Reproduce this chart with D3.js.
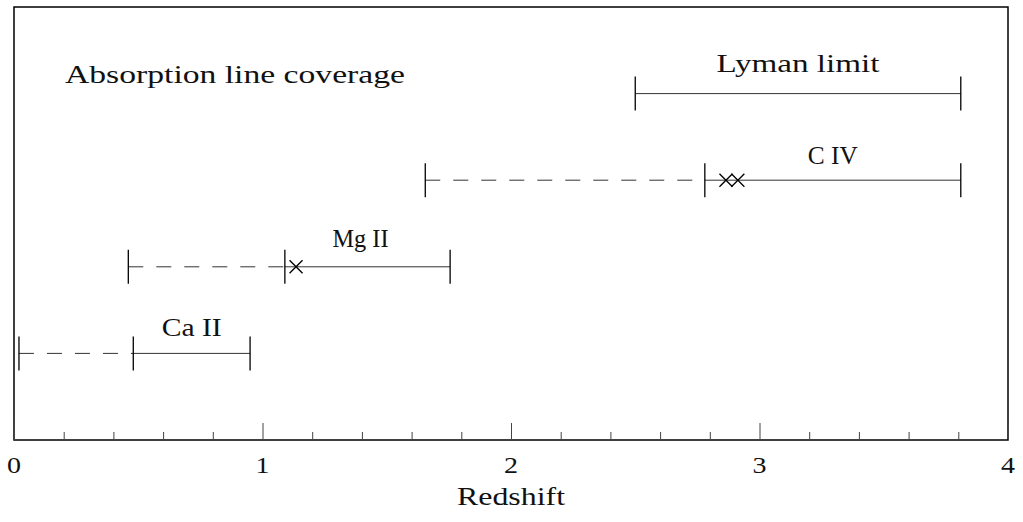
<!DOCTYPE html>
<html>
<head>
<meta charset="utf-8">
<script src="https://cdn.jsdelivr.net/npm/d3@7"></script>
<style>
  body { margin: 0; background: white; }
  text { font-family: "Liberation Serif", serif; fill: #111; }
</style>
</head>
<body>
<script>
const ions = ["Ca II", "Mg II", "C IV", "Lyman limit"]
const dashStart = [0.02, 0.46, 1.655, null]
const solidStart = [0.48, 1.09, 2.78, 2.50]
const solidEnd = [0.95, 1.755, 3.81, 3.81]
const crossIon = ["Mg II", "C IV", "C IV"]
const crossZ = [1.135, 2.865, 2.913]
const xTicks = [0, 1, 2, 3, 4]

const width = 1023
const height = 522
const pLeft = 14, pRight = 1008, pTop = 7, pBottom = 440

const x = d3.scaleLinear().domain([0, 4]).range([pLeft, pRight])
const y = d3.scaleLinear().domain([0, 5]).range([pBottom, pTop])
const row = name => y(ions.indexOf(name) + 1)
const cap = 17

const svg = d3.select("body").append("svg")
    .attr("width", width)
    .attr("height", height)

// frame
svg.append("rect")
    .attr("x", pLeft).attr("y", pTop)
    .attr("width", pRight - pLeft).attr("height", pBottom - pTop)
    .attr("fill", "none").attr("stroke", "#000").attr("stroke-width", 1.5)

// x axis, minor every 0.2
const ax = svg.append("g").attr("transform", `translate(0,${pBottom})`)
ax.call(d3.axisBottom(x).tickValues(d3.range(0, 4.01, 0.2)).tickSize(-8).tickFormat(""))
ax.call(g => g.select(".domain").remove())
ax.selectAll(".tick line").attr("stroke", "#444")
ax.selectAll(".tick").filter(d => Math.abs(d - Math.round(d)) < 1e-6)
    .select("line").attr("y2", -17)

svg.selectAll(".xlab").data(xTicks).enter().append("text")
    .attr("x", d => x(d)).attr("y", pBottom + 33)
    .attr("text-anchor", "middle")
    .style("font-size", "24px")
    .attr("textLength", 14).attr("lengthAdjust", "spacingAndGlyphs")
    .text(d => d)

svg.append("text")
    .attr("x", (pLeft + pRight) / 2).attr("y", 505)
    .attr("text-anchor", "middle")
    .style("font-size", "25px")
    .attr("textLength", 108).attr("lengthAdjust", "spacingAndGlyphs")
    .text("Redshift")

const idx = d3.range(ions.length)

// dashed parts
svg.selectAll(".dash").data(idx.filter(i => dashStart[i] != null)).enter().append("line")
    .attr("x1", i => x(dashStart[i])).attr("x2", i => x(solidStart[i]))
    .attr("y1", i => row(ions[i])).attr("y2", i => row(ions[i]))
    .attr("stroke", "#333").attr("stroke-dasharray", "15,13")

// solid parts
svg.selectAll(".solid").data(idx).enter().append("line")
    .attr("x1", i => x(solidStart[i])).attr("x2", i => x(solidEnd[i]))
    .attr("y1", i => row(ions[i])).attr("y2", i => row(ions[i]))
    .attr("stroke", "#333")

// end caps
const caps = []
idx.forEach(i => {
    if (dashStart[i] != null) caps.push([dashStart[i], ions[i]])
    caps.push([solidStart[i], ions[i]])
    caps.push([solidEnd[i], ions[i]])
})
svg.selectAll(".cap").data(caps).enter().append("line")
    .attr("x1", d => x(d[0])).attr("x2", d => x(d[0]))
    .attr("y1", d => row(d[1]) - cap).attr("y2", d => row(d[1]) + cap)
    .attr("stroke", "#000").attr("stroke-width", 1.3)

// crosses
svg.selectAll(".cross").data(d3.range(crossZ.length)).enter().append("path")
    .attr("d", i => {
        const cx = x(crossZ[i]), cy = row(crossIon[i]), s = 6.5
        return `M${cx - s},${cy - s}L${cx + s},${cy + s}M${cx - s},${cy + s}L${cx + s},${cy - s}`
    })
    .attr("stroke", "#000").attr("stroke-width", 1.3).attr("fill", "none")

// ion labels centred on solid part
const labW = [60, 56, 50, 163]
const labDy = [-17, -20, -16, -22]
const labDx = [0, -7, 0, 0]
svg.selectAll(".ionlab").data(idx).enter().append("text")
    .attr("x", i => x((solidStart[i] + solidEnd[i]) / 2) + labDx[i])
    .attr("y", i => row(ions[i]) + labDy[i])
    .attr("text-anchor", "middle")
    .style("font-size", "25px")
    .attr("textLength", i => labW[i]).attr("lengthAdjust", "spacingAndGlyphs")
    .text(i => ions[i])

svg.append("text")
    .attr("x", 65).attr("y", 83)
    .style("font-size", "25px")
    .attr("textLength", 340).attr("lengthAdjust", "spacingAndGlyphs")
    .text("Absorption line coverage")
</script>
</body>
</html>
